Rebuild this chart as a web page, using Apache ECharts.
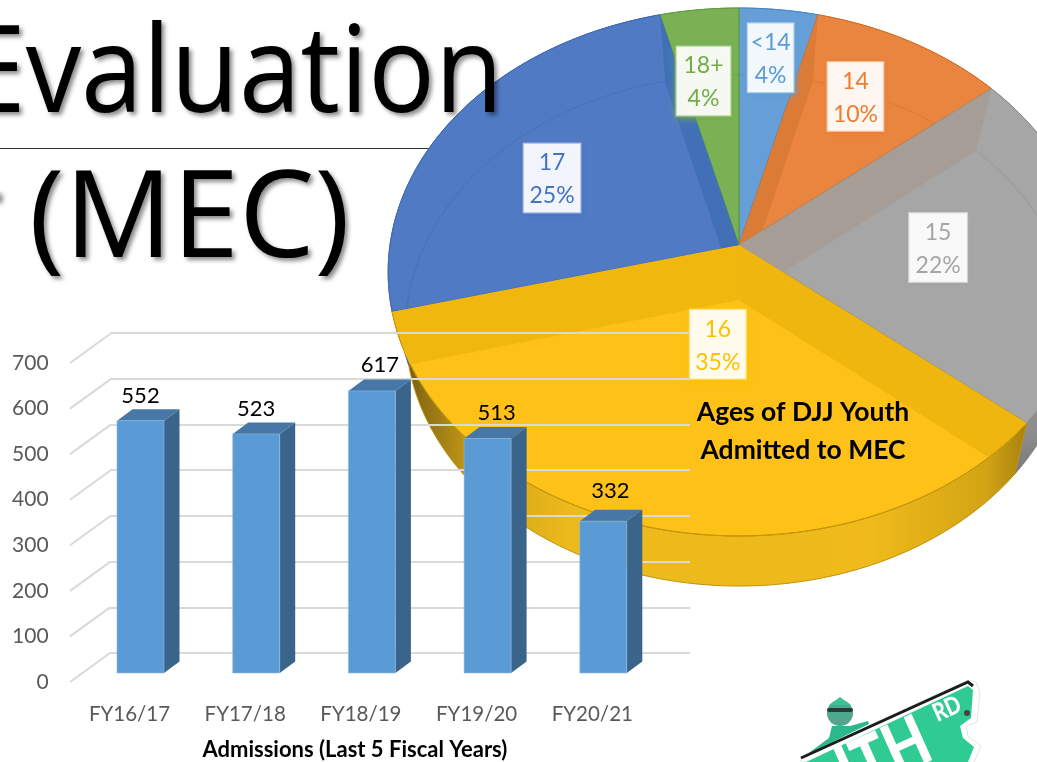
<!DOCTYPE html>
<html><head><meta charset="utf-8">
<style>html,body{margin:0;padding:0;background:#fff}#c{width:1037px;height:762px}</style>
<script src="https://cdn.jsdelivr.net/npm/echarts@6/dist/echarts.min.js"></script>
</head><body><div id="c"></div>
<script>
// ---- data ----
const fiscalYears = ['FY16/17','FY17/18','FY18/19','FY19/20','FY20/21'];
const admissions = [552,523,617,513,332];
const yTicks = [0,100,200,300,400,500,600,700];
const ageNames = ['<14','14','15','16','17','18+'];
const agePercents = [4,10,22,35,25,4];
// ---- styles ----
const FONT = 'Lato, Carlito, sans-serif';
const faceColors = ['#669FD8','#E9853F','#A6A6A6','#FDC118','#507AC4','#7AB155'];
const edgeColors = ['#4A86C0','#D06F28','#8C8C8C','#CC9A0C','#3E69B2','#5F9A3E'];
const textColors = ['#5B9BD5','#ED7D31','#A5A5A5','#FFC000','#4472C4','#70AD47'];
const wallColors = [null,'#DC7B36','#A59D96','#EEB60E','#F0B70F','#4170B6'];
const wallClip = [null,1,2,3,3,4]; // which face a wall at the start of slice i shows through
const labelR = [0.78,0.70,0.57,0.37,0.61,0.68];
const labelShift = [0,-2,1,-3.5,-5,-2];
const labelW = [48,58,60,58,59,56];
const barLabelDx = [0,0,8,9,7];
const barLabelDy = [-25,-25,-26,-26,-30];
const topDisk = {px:739,py:245,B:349,A:261.2,k:0.1023};
const botDisk = {px:739,py:300,B:331,A:252,k:0.119};

const total = agePercents.reduce((a,b)=>a+b,0);
const bounds = [0];
agePercents.forEach(v=>bounds.push(bounds[bounds.length-1]+v/total*360));

function proj(d,r,deg){
  const t=deg*Math.PI/180, x=r*Math.sin(t), y=-r*Math.cos(t), w=1-d.k*y;
  return [d.px+d.B*x/w, d.py+d.A*y/w];
}
function arc(d,a,b){
  const out=[], n=Math.max(2,Math.ceil((b-a)/1.5));
  for(let i=0;i<=n;i++) out.push(proj(d,1,a+(b-a)*i/n));
  return out;
}
function sector(d,i){ return [[d.px,d.py]].concat(arc(d,bounds[i],bounds[i+1])); }
function clipConvex(subject,clipper){
  let area=0;
  clipper.forEach((p,i)=>{const q=clipper[(i+1)%clipper.length];area+=p[0]*q[1]-q[0]*p[1];});
  const sgn=area>0?1:-1;
  const inside=(p,a,b)=>sgn*((b[0]-a[0])*(p[1]-a[1])-(b[1]-a[1])*(p[0]-a[0]))>=0;
  const cross=(p,q,a,b)=>{
    const d=(p[0]-q[0])*(a[1]-b[1])-(p[1]-q[1])*(a[0]-b[0]);
    const t=((p[0]-a[0])*(a[1]-b[1])-(p[1]-a[1])*(a[0]-b[0]))/d;
    return [p[0]+t*(q[0]-p[0]),p[1]+t*(q[1]-p[1])];
  };
  let out=subject;
  for(let i=0;i<clipper.length&&out.length;i++){
    const a=clipper[i],b=clipper[(i+1)%clipper.length],inp=out;out=[];
    for(let j=0;j<inp.length;j++){
      const p=inp[j],q=inp[(j+1)%inp.length],pi=inside(p,a,b),qi=inside(q,a,b);
      if(pi)out.push(p);
      if(pi!==qi)out.push(cross(p,q,a,b));
    }
  }
  return out;
}
const yellowRim = new echarts.graphic.LinearGradient(392,0,1030,0,[
  {offset:0,color:'#5E4A12'},{offset:0.05,color:'#8F7114'},{offset:0.14,color:'#D0A318'},
  {offset:0.28,color:'#EDBA1C'},{offset:0.75,color:'#EFBA1A'},{offset:0.93,color:'#D3A415'},{offset:1,color:'#A57F0E'}],true);
const grayRim = new echarts.graphic.LinearGradient(0,430,0,500,[
  {offset:0,color:'#8E8E8E'},{offset:1,color:'#6E6E6E'}],true);
const rimFill = i => i===3?yellowRim:(i===2?grayRim:edgeColors[i]);
const TITLE_STYLE = {fill:'#000',textShadowColor:'rgba(0,0,0,0.45)',textShadowBlur:4,textShadowOffsetX:3,textShadowOffsetY:3,verticalAlign:'top',font:'120px "Open Sans", sans-serif'};

const chart = echarts.init(document.getElementById('c'),null,{renderer:'canvas'});
const pieData = agePercents.map((v,i)=>({name:ageNames[i],value:v}));
const barData = admissions.map((v,i)=>[i,v]);

chart.setOption({
  animation:false,
  backgroundColor:'#fff',
  grid:[
    {left:71.65,width:578.5,top:363,height:319},
    {left:110,width:580,top:333,height:320},
    {left:82.65,width:578.5,top:353,height:320}
  ],
  xAxis:[
    {gridIndex:0,type:'category',data:fiscalYears,z:8,axisLine:{show:false},axisTick:{show:false},
     axisLabel:{margin:22,fontFamily:FONT,fontSize:20.5,color:'#595959'},
     name:'Admissions (Last 5 Fiscal Years)',nameLocation:'middle',nameGap:57,
     nameTextStyle:{fontFamily:FONT,fontSize:22,fontWeight:'bold',color:'#000',padding:[0,12,0,0]}},
    {gridIndex:1,type:'category',data:fiscalYears,show:false},
    {gridIndex:2,type:'category',data:fiscalYears,show:false}
  ],
  yAxis:[
    {gridIndex:0,type:'value',min:0,max:700,interval:100,z:8,axisLine:{show:false},axisTick:{show:false},splitLine:{show:false},
     axisLabel:{margin:23,fontFamily:FONT,fontSize:21,color:'#595959',padding:[4,0,0,0]}},
    {gridIndex:1,type:'value',min:0,max:700,interval:100,z:5,axisLine:{show:false},axisTick:{show:false},axisLabel:{show:false},
     splitLine:{show:true,lineStyle:{color:'#D9D9D9',width:2}}},
    {gridIndex:2,type:'value',min:0,max:700,interval:100,show:false,splitLine:{show:false}}
  ],
  graphic:[
    {type:'line',z:0,shape:{x1:0,y1:148.5,x2:432,y2:148.5},style:{stroke:'#333',lineWidth:1}},
    {type:'text',z:20,silent:true,x:503,y:18,scaleX:0.925,style:Object.assign({text:'Evaluation',x:0,y:0,align:'right'},TITLE_STYLE)},
    {type:'text',z:20,silent:true,style:Object.assign({text:'(MEC)',x:350,y:163,align:'right'},TITLE_STYLE)},
    {type:'text',z:20,silent:true,style:Object.assign({text:'r',x:2,y:163,align:'right'},TITLE_STYLE)},
    {type:'text',z:20,silent:true,style:{text:'Ages of DJJ Youth',x:803,y:412,align:'center',verticalAlign:'middle',
      font:'bold 26.5px '+FONT,fill:'#000'}},
    {type:'text',z:20,silent:true,style:{text:'Admitted to MEC',x:803,y:450,align:'center',verticalAlign:'middle',
      font:'bold 26.5px '+FONT,fill:'#000'}},
    // street-sign picture, bottom right
    {type:'polygon',z:3,shape:{points:[[801,762],[801,757],[968,680],[976,682],[980,692],[977,722],[966,726],[968,736],[981,746],[974,762]]},
      style:{fill:'#fff',stroke:'#DDE8E2',lineWidth:1}},
    {type:'polygon',z:3,shape:{points:[[806,762],[968,686],[973,690],[971,718],[960,726],[963,738],[974,747],[968,762]]},style:{fill:'#2FCB93'}},
    {type:'polygon',z:3,shape:{points:[[806,755],[829,738],[832,726],[850,726],[868,721],[869,724]]},style:{fill:'#2BB88A'}},
    {type:'circle',z:3,shape:{cx:840,cy:713,r:13},style:{fill:'#4DA98B'}},
    {type:'polygon',z:3,shape:{points:[[829,705],[840,697],[851,705]]},style:{fill:'#3FC096'}},
    {type:'rect',z:3,shape:{x:827,y:708,width:26,height:4,r:2},style:{fill:'#2B3A36'}},
    {type:'circle',z:3,shape:{cx:967,cy:713,r:3},style:{fill:'#444'}},
    {type:'text',z:3,silent:true,rotation:0.42,scaleX:0.8,x:884,y:757,style:{text:'ITH',align:'center',verticalAlign:'middle',font:'900 70px '+FONT,fill:'#fff'}},
    {type:'text',z:3,silent:true,rotation:0.42,scaleX:0.8,x:947,y:709,style:{text:'RD',align:'center',verticalAlign:'middle',font:'900 25px '+FONT,fill:'#fff'}},
    {type:'polyline',z:3,shape:{points:[[801,758],[968,682],[973,686]]},style:{stroke:'#1C1C1C',fill:null,lineWidth:3}}
  ],
  series:[
    {type:'custom',name:'pie-rim',coordinateSystem:'none',z:1,silent:true,data:pieData,
     renderItem(p){
       const i=p.dataIndex, top=arc(topDisk,bounds[i],bounds[i+1]), bot=arc(botDisk,bounds[i],bounds[i+1]).reverse();
       return {type:'polygon',shape:{points:top.concat(bot)},style:{fill:rimFill(i),stroke:i===3?'#BF920E':rimFill(i),lineWidth:1}};
     }},
    {type:'custom',name:'pie-top',coordinateSystem:'none',z:2,silent:true,data:pieData,
     renderItem(p){
       const i=p.dataIndex;
       return {type:'polygon',shape:{points:sector(topDisk,i)},style:{fill:faceColors[i],stroke:edgeColors[i],lineWidth:1}};
     }},
    {type:'custom',name:'pie-inner',coordinateSystem:'none',z:3,silent:true,data:pieData,
     renderItem(p){
       const i=p.dataIndex, children=[];
       if(wallColors[i]){
         const a=bounds[i];
         const quad=[[topDisk.px,topDisk.py],proj(topDisk,1,a),proj(botDisk,1,a),[botDisk.px,botDisk.py]];
         const pts=clipConvex(quad,sector(topDisk,wallClip[i]));
         children.push({type:'polygon',shape:{points:pts},style:{fill:wallColors[i]}});
       }
       if(i!==3){
         const face=sector(topDisk,i);
         const pts=clipConvex(arc(botDisk,bounds[i],bounds[i+1]).concat([[botDisk.px,botDisk.py]]),face);
         const arcPts=pts.filter(q=>Math.hypot(q[0]-botDisk.px,q[1]-botDisk.py)>40);
         children.push({type:'polyline',shape:{points:arcPts},style:{fill:null,stroke:edgeColors[i],opacity:0.55,lineWidth:1}});
       }
       if(i===3){
         children.push({type:'polyline',shape:{points:arc(topDisk,bounds[i],bounds[i+1])},style:{fill:null,stroke:'#C4960C',lineWidth:1}});
       }
       return {type:'group',children};
     }},
    {type:'custom',name:'pie-labels',coordinateSystem:'none',z:4,silent:true,data:pieData,
     renderItem(p){
       const i=p.dataIndex, mid=(bounds[i]+bounds[i+1])/2+labelShift[i], c=proj(topDisk,labelR[i],mid);
       const w=labelW[i],h=71;
       return {type:'group',children:[
         {type:'rect',shape:{x:c[0]-w/2,y:c[1]-h/2,width:w,height:h},style:{fill:'rgba(255,255,255,0.93)',stroke:'transparent',
           shadowColor:textColors[i],shadowBlur:7,shadowOffsetX:1,shadowOffsetY:3}},
         {type:'rect',shape:{x:c[0]-w/2,y:c[1]-h/2,width:w,height:h},style:{fill:'rgba(255,255,255,0.0)',stroke:textColors[i],lineWidth:2.5,opacity:0.45}},
         {type:'text',style:{text:ageNames[i],x:c[0],y:c[1]-15,align:'center',verticalAlign:'middle',font:'23px '+FONT,fill:textColors[i]}},
         {type:'text',style:{text:agePercents[i]+'%',x:c[0],y:c[1]+18,align:'center',verticalAlign:'middle',font:'23px '+FONT,fill:textColors[i]}}
       ]};
     }},
    {type:'custom',name:'side-grid',xAxisIndex:0,yAxisIndex:0,z:5,silent:true,data:yTicks.map(v=>[0,v]),
     renderItem(p,api){
       const y=api.coord([0,api.value(1)])[1], x=p.coordSys.x-1.6;
       return {type:'line',shape:{x1:x,y1:y,x2:x+40,y2:y-29},style:{stroke:'#D9D9D9',lineWidth:2}};
     }},
    {type:'custom',name:'Admissions',xAxisIndex:2,yAxisIndex:2,z:6,silent:true,data:barData,
     renderItem(p,api){
       const i=api.value(0), v=api.value(1), top=api.coord([i,v]), base=api.coord([i,0]);
       const w=47,dx=15.5,dy=-11.5,l=top[0]-w/2,r=top[0]+w/2,yt=top[1],yb=base[1];
       return {type:'group',children:[
         {type:'polygon',shape:{points:[[r,yt],[r+dx,yt+dy],[r+dx,yb+dy],[r,yb]]},style:{fill:'#3A648A'}},
         {type:'polygon',shape:{points:[[l,yt],[l+dx,yt+dy],[r+dx,yt+dy],[r,yt]]},style:{fill:'#4677A6'}},
         {type:'rect',shape:{x:l,y:yt,width:w,height:yb-yt},style:{fill:'#5B9BD5',stroke:'#8DBBE4',lineWidth:0.6}},
         {type:'text',z2:5,style:{text:String(v),x:top[0]+barLabelDx[i],y:yt+barLabelDy[i],align:'center',verticalAlign:'middle',font:'22px '+FONT,fill:'#000'}}
       ]};
     }}
  ]
});
</script></body></html>
